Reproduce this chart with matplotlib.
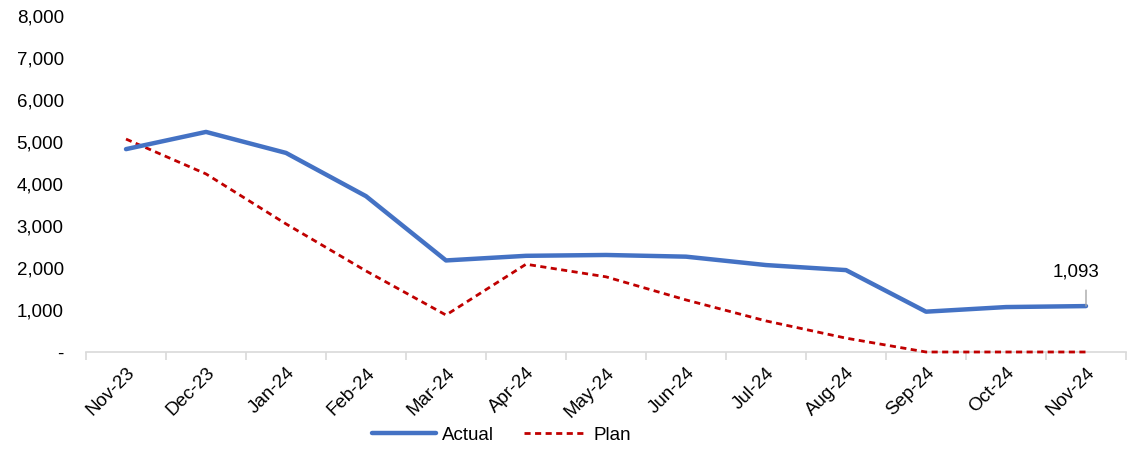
import matplotlib.pyplot as plt
from matplotlib.ticker import FuncFormatter, FixedLocator

plt.rcParams['font.family'] = ['Liberation Sans', 'DejaVu Sans']

months = ['Nov-23', 'Dec-23', 'Jan-24', 'Feb-24', 'Mar-24', 'Apr-24', 'May-24',
          'Jun-24', 'Jul-24', 'Aug-24', 'Sep-24', 'Oct-24', 'Nov-24']
actual = [4830, 5240, 4740, 3710, 2180, 2290, 2310, 2270, 2070, 1950, 960, 1070, 1093]
plan = [5070, 4240, 3050, 1930, 880, 2090, 1790, 1240, 740, 330, 0, 0, 0]

fs = 13.5

fig = plt.figure(figsize=(11.27, 4.54), dpi=100)
ax = fig.add_axes([86 / 1127, 1 - 352 / 454, 1040 / 1127, 336 / 454])

x = list(range(len(months)))
ax.plot(x, actual, color='#4472C4', lw=3.2, solid_capstyle='round', label='Actual', zorder=3)
ax.plot(x, plan, color='#C00000', lw=2.0, dashes=(2.2, 1.6), label='Plan', zorder=2, clip_on=False)

ax.set_xlim(-0.5, len(months) - 0.5)
ax.set_ylim(0, 8000)

ax.set_yticks(range(0, 8001, 1000))
ax.yaxis.set_major_formatter(FuncFormatter(lambda v, p: '-' if v == 0 else f'{int(v):,}'))
ax.tick_params(axis='y', length=0, pad=16, labelsize=fs)

ax.set_xticks(x)
ax.set_xticklabels(months, rotation=45, ha='right', rotation_mode='anchor', fontsize=fs)
ax.xaxis.set_minor_locator(FixedLocator([i - 0.5 for i in range(len(months) + 1)]))
ax.tick_params(axis='x', which='major', length=0, pad=9)
ax.tick_params(axis='x', which='minor', length=6, color='#D9D9D9', width=1.2)

for s in ['top', 'right', 'left']:
    ax.spines[s].set_visible(False)
ax.spines['bottom'].set_color('#D9D9D9')
ax.spines['bottom'].set_linewidth(1.2)
ax.spines['bottom'].set_zorder(1)

# label on the last point, with a short vertical leader line
ax.annotate('', xy=(x[-1], actual[-1]), xytext=(x[-1], actual[-1] + 380),
            arrowprops=dict(arrowstyle='-', color='#A6A6A6', lw=1, shrinkA=0, shrinkB=0))
ax.text(x[-1] - 0.12, actual[-1] + 600, f'{actual[-1]:,}', ha='center', va='bottom', fontsize=fs)

fig.legend(loc='lower center', bbox_to_anchor=(0.445, -0.015), ncol=2, frameon=False,
           fontsize=fs, handlelength=3.4, columnspacing=1.6, handletextpad=0.3)

fig.savefig('out.png', dpi=100)
